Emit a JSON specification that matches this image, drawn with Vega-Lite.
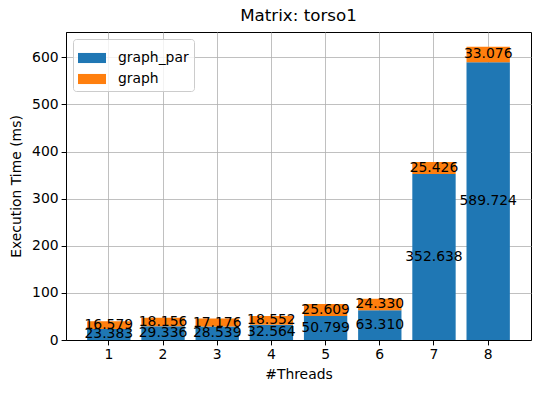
{
  "$schema": "https://vega.github.io/schema/vega-lite/v6.json",
  "width": 465,
  "height": 308,
  "autosize": {"type": "none"},
  "padding": {"left": 66, "top": 32, "right": 9, "bottom": 53},
  "background": "white",
  "title": {"text": "Matrix: torso1", "fontSize": 16.7, "font": "DejaVu Sans", "fontWeight": "normal", "color": "black", "offset": 7},
  "config": {
    "view": {"stroke": "black", "strokeWidth": 1},
    "axis": {
      "labelFont": "DejaVu Sans", "labelFontSize": 13.9, "labelColor": "black",
      "titleFont": "DejaVu Sans", "titleFontSize": 13.9, "titleFontWeight": "normal", "titleColor": "black",
      "domainColor": "black", "tickColor": "black", "tickSize": 4.9, "labelPadding": 3,
      "grid": true, "gridColor": "#b0b0b0", "gridWidth": 0.8, "zindex": 1
    },
    "legend": {
      "orient": "none", "legendX": 7, "legendY": 7,
      "fillColor": "rgba(255,255,255,0.8)", "strokeColor": "#cccccc", "cornerRadius": 3, "padding": 5,
      "labelFont": "DejaVu Sans", "labelFontSize": 13.9, "labelColor": "black", "labelOffset": 12,
      "symbolType": "M-1,-0.36H1V0.36H-1Z", "symbolSize": 784, "symbolStrokeWidth": 0, "symbolOpacity": 1,
      "rowPadding": -6
    }
  },
  "data": {"values": [
    {"threads": 1, "series": "graph_par", "time": 23.383},
    {"threads": 1, "series": "graph", "time": 16.579},
    {"threads": 2, "series": "graph_par", "time": 29.336},
    {"threads": 2, "series": "graph", "time": 18.156},
    {"threads": 3, "series": "graph_par", "time": 28.539},
    {"threads": 3, "series": "graph", "time": 17.176},
    {"threads": 4, "series": "graph_par", "time": 32.564},
    {"threads": 4, "series": "graph", "time": 18.552},
    {"threads": 5, "series": "graph_par", "time": 50.799},
    {"threads": 5, "series": "graph", "time": 25.609},
    {"threads": 6, "series": "graph_par", "time": 63.310},
    {"threads": 6, "series": "graph", "time": 24.330},
    {"threads": 7, "series": "graph_par", "time": 352.638},
    {"threads": 7, "series": "graph", "time": 25.426},
    {"threads": 8, "series": "graph_par", "time": 589.724},
    {"threads": 8, "series": "graph", "time": 33.076}
  ]},
  "transform": [
    {"stack": "time", "groupby": ["threads"], "sort": [{"field": "series", "order": "descending"}], "as": ["y0", "y1"]},
    {"calculate": "(datum.y0 + datum.y1) / 2", "as": "ymid"}
  ],
  "encoding": {
    "x": {"field": "threads", "type": "ordinal",
      "scale": {"paddingInner": 0.2, "paddingOuter": 0.39},
      "axis": {"title": "#Threads", "labelAngle": 0, "bandPosition": 0.5, "titlePadding": 6}}
  },
  "layer": [
    {
      "mark": {"type": "bar"},
      "encoding": {
        "y": {"field": "y0", "type": "quantitative",
          "scale": {"domain": [0, 653.9], "nice": false, "zero": true},
          "axis": {"title": "Execution Time (ms)", "values": [0, 100, 200, 300, 400, 500, 600], "titlePadding": 8}},
        "y2": {"field": "y1"},
        "color": {"field": "series", "type": "nominal",
          "scale": {"domain": ["graph_par", "graph"], "range": ["#1f77b4", "#ff7f0e"]},
          "legend": {"title": null}}
      }
    },
    {
      "mark": {"type": "text", "fontSize": 13.9, "font": "DejaVu Sans", "color": "black", "baseline": "middle"},
      "encoding": {
        "y": {"field": "ymid", "type": "quantitative"},
        "text": {"field": "time", "type": "quantitative", "format": ".3f"}
      }
    }
  ]
}
